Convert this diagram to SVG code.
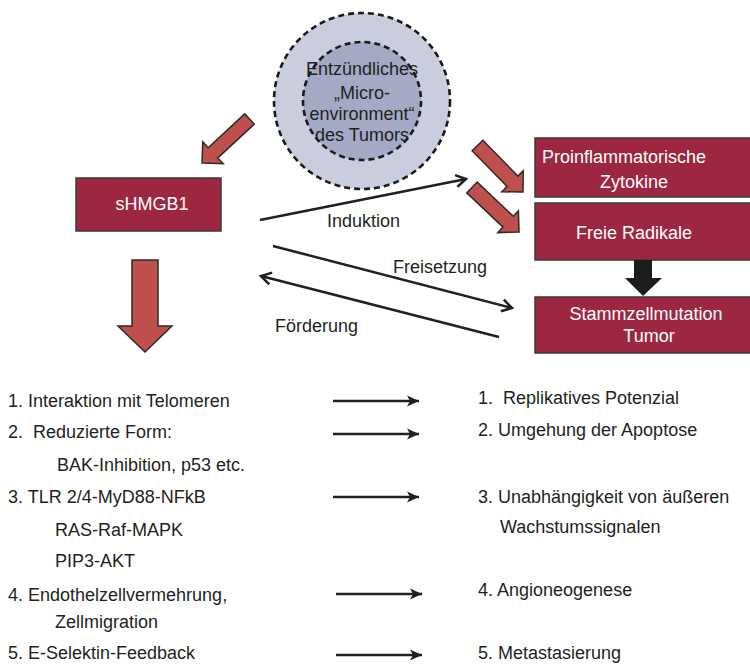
<svg xmlns="http://www.w3.org/2000/svg" width="750" height="664" viewBox="0 0 750 664">
<defs>
<style>
text{font-family:"Liberation Sans",Arial,sans-serif;font-size:18px;fill:#231f20}
.wt{fill:#ffffff}
.box{fill:#9d2740;stroke:#3a3a3a;stroke-width:1.5}
.blk{fill:#c0504d;stroke:#2b2b2b;stroke-width:1.5;stroke-linejoin:miter}
.ln{stroke:#231f20;stroke-width:2.5;fill:none}
.mid{stroke:#231f20;stroke-width:2.6;fill:none}
.circ{stroke:#1a1a1a;stroke-width:2.6;stroke-dasharray:6 4}
</style>
<marker id="chev" markerUnits="userSpaceOnUse" markerWidth="16" markerHeight="16" viewBox="0 0 16 16" refX="13" refY="8" orient="auto">
<path d="M3,2 L13,8 L3,14" fill="none" stroke="#231f20" stroke-width="2.5"/>
</marker>
<marker id="chevs" markerUnits="userSpaceOnUse" markerWidth="16" markerHeight="16" viewBox="0 0 16 16" refX="3" refY="8" orient="auto">
<path d="M13,2 L3,8 L13,14" fill="none" stroke="#231f20" stroke-width="2.5"/>
</marker>
<marker id="barb" markerUnits="userSpaceOnUse" markerWidth="16" markerHeight="14" viewBox="0 0 16 14" refX="14" refY="7" orient="auto">
<path d="M2,1.5 L14,7 L2,12.5 L5,7 z" fill="#231f20"/>
</marker>
</defs>

<g id="microenvironment">
<circle cx="362" cy="101" r="88" fill="#c9cddd" class="circ"/>
<circle cx="362" cy="101" r="59" fill="#a4aac3" class="circ"/>
<text x="362" y="75" text-anchor="middle" fill="#2a2a2a">Entzündliches</text>
<text x="362" y="99" text-anchor="middle">„Micro-</text>
<text x="362" y="120" text-anchor="middle">environment“</text>
<text x="362" y="141" text-anchor="middle">des Tumors</text>
</g>

<g id="shmgb1">
<rect x="76" y="178" width="145" height="53" class="box"/>
<text x="152" y="210" text-anchor="middle" class="wt">sHMGB1</text>
</g>

<g id="zytokine">
<rect x="535" y="138" width="217" height="59" class="box"/>
<text x="542" y="163" class="wt">Proinflammatorische</text>
<text x="634" y="188" text-anchor="middle" class="wt">Zytokine</text>
</g>

<g id="radikale">
<rect x="535" y="203" width="217" height="57" class="box"/>
<text x="634" y="239" text-anchor="middle" class="wt">Freie Radikale</text>
</g>

<g id="stammzell">
<rect x="535" y="297" width="217" height="56" class="box"/>
<text x="646" y="320" text-anchor="middle" class="wt">Stammzellmutation</text>
<text x="649" y="342" text-anchor="middle" class="wt">Tumor</text>
</g>

<g id="left-list">
<text x="8" y="407">1. Interaktion mit Telomeren</text>
<text x="8" y="438" xml:space="preserve">2.  Reduzierte Form:</text>
<text x="57" y="471">BAK-Inhibition, p53 etc.</text>
<text x="8" y="503">3. TLR 2/4-MyD88-NFkB</text>
<text x="55" y="536">RAS-Raf-MAPK</text>
<text x="55" y="567">PIP3-AKT</text>
<text x="8" y="601">4. Endothelzellvermehrung,</text>
<text x="55" y="628">Zellmigration</text>
<text x="8" y="659">5. E-Selektin-Feedback</text>
</g>

<g id="right-list">
<text x="478" y="404" xml:space="preserve">1.  Replikatives Potenzial</text>
<text x="478" y="436">2. Umgehung der Apoptose</text>
<text x="478" y="503">3. Unabhängigkeit von äußeren</text>
<text x="500" y="533">Wachstumssignalen</text>
<text x="478" y="596">4. Angioneogenese</text>
<text x="478" y="659">5. Metastasierung</text>
</g>

<g id="connectors">
<polygon class="blk" points="244.7,113.9 208.2,147.7 202.8,141.8 202,163 223.2,163.8 217.8,157.9 254.3,124.1"/>
<polygon class="blk" points="472.1,150.7 507.1,186.5 501.8,191.8 523,192 523.2,170.8 517.9,176.1 482.9,140.3"/>
<polygon class="blk" points="466.8,192.9 503.0,227.1 497.8,232.6 519,232 518.4,210.8 513.3,216.3 477.2,182.1"/>
<polygon class="blk" points="132,260 158,260 158,326 172,326 145,352 118,326 132,326"/>
<polygon points="634,260 652,260 652,278 662,278 643,296 625,278 634,278" fill="#1c1c1c"/>
<line x1="260" y1="220" x2="466" y2="179" class="ln" marker-end="url(#chev)"/>
<line x1="273" y1="246" x2="512" y2="308" class="ln" marker-end="url(#chev)"/>
<line x1="261" y1="276" x2="499" y2="337" class="ln" marker-start="url(#chevs)"/>
<text x="327" y="227">Induktion</text>
<text x="393" y="273">Freisetzung</text>
<text x="275" y="332">Förderung</text>
<line x1="333" y1="401" x2="419" y2="401" class="mid" marker-end="url(#barb)"/>
<line x1="333" y1="434" x2="419" y2="434" class="mid" marker-end="url(#barb)"/>
<line x1="333" y1="497" x2="419" y2="497" class="mid" marker-end="url(#barb)"/>
<line x1="336" y1="594" x2="422" y2="594" class="mid" marker-end="url(#barb)"/>
<line x1="336" y1="655" x2="422" y2="655" class="mid" marker-end="url(#barb)"/>
</g>
</svg>
